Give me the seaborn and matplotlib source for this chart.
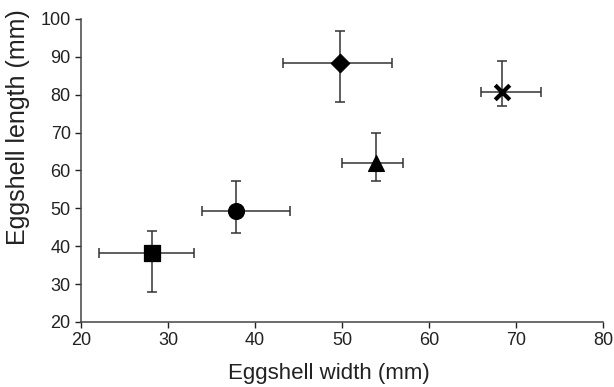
import matplotlib
matplotlib.use("Agg")
import matplotlib.pyplot as plt
import seaborn as sns
import pandas as pd

species = ["A", "B", "C", "D", "E"]
width = [28.1, 37.8, 49.8, 53.9, 68.4]
length = [38.2, 49.3, 88.3, 62.1, 80.8]
width_lo = [22.1, 33.9, 43.2, 50.0, 66.0]
width_hi = [33.0, 44.0, 55.7, 57.0, 72.9]
length_lo = [28.0, 43.5, 78.1, 57.3, 77.0]
length_hi = [44.1, 57.3, 96.8, 69.9, 88.9]
markers = {"A": "s", "B": "o", "C": "D", "D": "^", "E": "X"}
sizes = {"A": 130, "B": 130, "C": 90, "D": 130, "E": 130}

df = pd.DataFrame({"species": species, "width": width, "length": length})

sns.set_style("ticks")
plt.rcParams["font.family"] = ["Liberation Sans", "DejaVu Sans"]

fig = plt.figure(figsize=(6.14, 3.87), dpi=100)
ax = fig.add_axes([0.132, 0.168, 0.85, 0.783])

for i in range(len(species)):
    ax.errorbar(width[i], length[i],
                xerr=[[width[i] - width_lo[i]], [width_hi[i] - width[i]]],
                yerr=[[length[i] - length_lo[i]], [length_hi[i] - length[i]]],
                fmt="none", ecolor="#333333", elinewidth=1.1, capsize=3.6, capthick=1.1, zorder=1)

for s in species:
    sub = df[df.species == s]
    if markers[s] == "X":
        ax.scatter(sub.width, sub.length, marker="x", s=110, color="black", linewidths=3, zorder=3)
    else:
        sns.scatterplot(data=sub, x="width", y="length", marker=markers[s], s=sizes[s],
                        color="black", edgecolor="black", ax=ax, zorder=3, legend=False)

ax.set_xlim(20, 80)
ax.set_ylim(20, 100)
ax.set_xticks(range(20, 81, 10))
ax.set_yticks(range(20, 101, 10))
ax.set_xlabel("Eggshell width (mm)", fontsize=16, color="#222222", labelpad=10)
ax.set_ylabel("Eggshell length (mm)", fontsize=18, color="#222222")
ax.xaxis.label.set_x(0.475)
ax.yaxis.set_label_coords(-0.097, 0.644)
ax.tick_params(labelsize=13, colors="#222222", direction="out", length=4, width=1)
for sp in ["left", "bottom"]:
    ax.spines[sp].set_color("#444444")
    ax.spines[sp].set_linewidth(1.1)
sns.despine(ax=ax)

fig.savefig("out.png", dpi=100)
